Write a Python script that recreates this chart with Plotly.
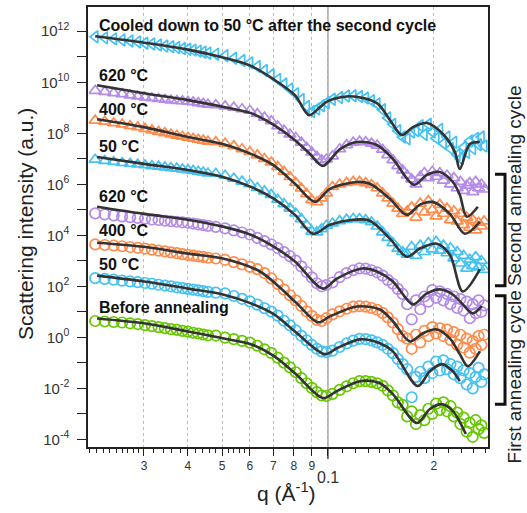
import plotly.graph_objects as go

# ---------------- data (log10 of displayed intensity) ----------------
q_markers = [0.0218, 0.0232, 0.0246, 0.0260, 0.0274, 0.0288, 0.0302, 0.0316, 0.0330, 0.0344,
             0.0358, 0.0372, 0.0386, 0.0400, 0.0414, 0.0428, 0.0442, 0.0456,
             0.048, 0.051, 0.054, 0.057, 0.060, 0.063, 0.066, 0.069, 0.072, 0.075, 0.078, 0.081,
             0.084, 0.087, 0.090, 0.093, 0.096, 0.099,
             0.103, 0.108, 0.113, 0.118, 0.123, 0.128, 0.133, 0.138, 0.143, 0.148, 0.153, 0.158,
             0.163, 0.168, 0.173, 0.178, 0.183, 0.188, 0.193, 0.198, 0.203, 0.208, 0.213, 0.218,
             0.223, 0.228, 0.233, 0.238, 0.243, 0.248, 0.253, 0.258, 0.263, 0.268, 0.273, 0.278]

m_before = [0.64, 0.62, 0.60, 0.58, 0.55, 0.52, 0.48, 0.44, 0.40, 0.36, 0.32, 0.29, 0.25, 0.22, 0.18, 0.15, 0.11, 0.08,
            0.07, -0.01, -0.07, -0.14, -0.21, -0.33, -0.47, -0.61, -0.80, -0.99, -1.18, -1.37, -1.60, -1.80, -1.98, -2.15, -2.28, -2.30,
            -2.22, -2.06, -1.92, -1.80, -1.72, -1.72, -1.75, -1.80, -1.90, -2.08, -2.28, -2.55, -2.65, -3.10, -2.90, -3.40, -3.05, -3.25,
            -2.80, -3.00, -2.60, -2.85, -2.55, -2.90, -2.70, -3.10, -2.95, -3.40, -3.15, -3.70, -3.35, -3.90, -3.25, -3.60, -3.45, -3.75]
m_c1_50 = [2.32, 2.29, 2.26, 2.22, 2.19, 2.16, 2.13, 2.10, 2.06, 2.03, 2.00, 1.96, 1.93, 1.90, 1.87, 1.84, 1.81, 1.78,
           1.75, 1.72, 1.62, 1.51, 1.41, 1.28, 1.14, 1.01, 0.85, 0.65, 0.47, 0.27, 0.06, -0.12, -0.30, -0.45, -0.55, -0.58,
           -0.52, -0.38, -0.24, -0.13, -0.06, -0.07, -0.12, -0.20, -0.30, -0.45, -0.62, -0.85, -1.05, -1.25, -2.35, -1.55, -1.35, -1.60,
           -1.15, -1.40, -0.95, -1.30, -0.90, -1.25, -1.05, -1.45, -1.15, -1.60, -1.30, -1.85, -1.40, -2.00, -1.55, -1.20, -1.75, -1.45]
m_c1_400 = [3.64, 3.62, 3.60, 3.57, 3.54, 3.51, 3.48, 3.44, 3.40, 3.37, 3.33, 3.30, 3.26, 3.23, 3.20, 3.17, 3.15, 3.12,
            3.09, 3.04, 2.95, 2.86, 2.76, 2.67, 2.52, 2.31, 2.09, 1.87, 1.65, 1.45, 1.23, 1.02, 0.84, 0.68, 0.64, 0.75,
            0.90, 1.02, 1.12, 1.20, 1.22, 1.20, 1.15, 1.08, 0.96, 0.78, 0.58, 0.32, 0.05, -0.05, -0.45, 0.10, -0.20, 0.25,
            0.05, 0.40, 0.15, 0.35, 0.05, 0.30, -0.10, 0.20, -0.30, 0.10, -0.40, -0.05, -0.60, -0.15, -0.45, 0.05, -0.30, 0.10]
m_c1_620 = [4.86, 4.82, 4.78, 4.74, 4.71, 4.68, 4.65, 4.62, 4.60, 4.57, 4.55, 4.53, 4.51, 4.49, 4.46, 4.43, 4.40, 4.37,
            4.33, 4.27, 4.19, 4.11, 4.03, 3.90, 3.77, 3.64, 3.50, 3.34, 3.18, 3.01, 2.78, 2.56, 2.35, 2.12, 2.00, 2.05,
            2.15, 2.36, 2.52, 2.63, 2.70, 2.69, 2.63, 2.55, 2.42, 2.25, 2.10, 1.90, 1.70, 1.30, 0.70, 1.45, 1.10, 1.60,
            1.40, 1.85, 1.55, 1.80, 1.45, 1.70, 1.30, 1.60, 1.15, 1.50, 1.05, 1.40, 0.75, 1.30, 0.95, 1.45, 1.00, 1.25]
m_c2_50 = [6.97, 6.92, 6.88, 6.84, 6.81, 6.78, 6.75, 6.72, 6.70, 6.67, 6.64, 6.62, 6.59, 6.56, 6.53, 6.50, 6.47, 6.43,
           6.42, 6.34, 6.23, 6.11, 6.01, 5.86, 5.73, 5.59, 5.40, 5.23, 5.05, 4.86, 4.64, 4.40, 4.15, 4.12, 4.25, 4.38,
           4.47, 4.56, 4.62, 4.65, 4.64, 4.60, 4.52, 4.35, 4.12, 3.90, 3.70, 3.48, 3.35, 3.25, 3.55, 3.20, 3.60, 3.35,
           3.70, 3.45, 3.75, 3.40, 3.60, 3.30, 3.50, 3.10, 3.35, 2.90, 3.20, 2.70, 3.05, 2.80, 3.15, 2.75, 3.00, 2.65]
m_c2_400 = [8.50, 8.46, 8.40, 8.35, 8.29, 8.24, 8.18, 8.12, 8.06, 8.01, 7.96, 7.91, 7.87, 7.83, 7.79, 7.75, 7.72, 7.68,
            7.66, 7.60, 7.50, 7.38, 7.27, 7.14, 7.00, 6.86, 6.69, 6.50, 6.29, 6.06, 5.84, 5.62, 5.38, 5.30, 5.45, 5.65,
            5.90, 6.00, 6.06, 6.10, 6.10, 6.05, 5.98, 5.85, 5.65, 5.45, 5.25, 5.05, 4.85, 4.95, 5.10, 4.70, 5.25, 4.90,
            5.35, 5.00, 4.75, 5.20, 4.85, 5.05, 4.60, 4.95, 4.55, 4.85, 4.40, 4.70, 4.30, 4.60, 4.20, 4.50, 4.35, 4.55]
m_c2_620 = [9.67, 9.63, 9.58, 9.54, 9.49, 9.45, 9.41, 9.38, 9.35, 9.32, 9.29, 9.27, 9.26, 9.24, 9.22, 9.19, 9.16, 9.13,
            9.11, 9.06, 9.01, 8.95, 8.89, 8.76, 8.62, 8.48, 8.28, 8.11, 7.96, 7.83, 7.64, 7.44, 7.25, 7.08, 6.95, 6.98,
            7.10, 7.38, 7.54, 7.64, 7.68, 7.66, 7.60, 7.52, 7.36, 7.15, 6.95, 6.72, 6.55, 6.35, 6.20, 6.00, 6.30, 6.45,
            6.25, 6.50, 6.30, 6.45, 6.15, 6.35, 6.00, 6.25, 5.85, 6.10, 5.75, 5.95, 6.05, 5.70, 6.10, 5.85, 6.00, 5.80]
m_cooled = [11.78, 11.74, 11.70, 11.66, 11.62, 11.58, 11.53, 11.50, 11.46, 11.42, 11.39, 11.36, 11.32, 11.29, 11.26, 11.22, 11.18, 11.14,
            11.10, 11.04, 10.94, 10.85, 10.76, 10.62, 10.46, 10.29, 10.11, 9.93, 9.74, 9.55, 9.32, 9.05, 8.85, 8.95, 9.08, 9.20,
            9.33, 9.40, 9.46, 9.47, 9.44, 9.38, 9.28, 9.15, 8.92, 8.60, 8.35, 8.10, 7.85, 7.78, 8.05, 8.10, 8.30, 7.95,
            8.35, 8.05, 7.80, 8.15, 7.60, 7.85, 7.40, 7.65, 7.15, 7.00, 7.45, 7.25, 7.70, 7.40, 7.80, 7.55, 7.85, 7.50]

fit_q_before = [0.02207, 0.030, 0.040, 0.0503, 0.0604, 0.0703, 0.0806, 0.0968, 0.106, 0.1233, 0.1405, 0.1530, 0.1790, 0.1949, 0.2108, 0.2265, 0.2466]
fit_before = [0.74, 0.55, 0.23, -0.04, -0.27, -0.74, -1.41, -2.38, -2.11, -1.72, -1.80, -2.23, -3.36, -2.81, -2.62, -2.89, -3.79]
fit_q_c1_50 = [0.02207, 0.030, 0.040, 0.0503, 0.0604, 0.0703, 0.0806, 0.0980, 0.106, 0.1233, 0.1405, 0.1530, 0.1800, 0.1949, 0.2108, 0.2265, 0.2370]
fit_c1_50 = [2.42, 2.19, 1.91, 1.68, 1.33, 0.90, 0.23, -0.66, -0.43, -0.08, -0.23, -0.55, -1.91, -1.33, -1.05, -1.33, -1.72]
fit_q_c1_400 = [0.02207, 0.030, 0.040, 0.0503, 0.0641, 0.0730, 0.0816, 0.0937, 0.1013, 0.1209, 0.1405, 0.1530, 0.1710, 0.1862, 0.2039, 0.2221, 0.2370, 0.2498, 0.2703]
fit_c1_400 = [3.71, 3.55, 3.28, 3.09, 2.58, 1.95, 1.33, 0.59, 0.82, 1.21, 1.09, 0.63, -0.16, 0.16, 0.31, -0.04, -0.66, -1.13, -0.55]
fit_q_c1_620 = [0.02207, 0.030, 0.040, 0.0503, 0.0604, 0.0703, 0.0806, 0.0968, 0.106, 0.1249, 0.1378, 0.1530, 0.1744, 0.1911, 0.2080, 0.2265, 0.2418, 0.2580, 0.2739]
fit_c1_620 = [5.12, 4.84, 4.61, 4.34, 4.02, 3.55, 2.97, 1.91, 2.30, 2.70, 2.58, 2.19, 1.29, 1.72, 1.88, 1.68, 1.29, 0.94, 1.22]
fit_q_c2_50 = [0.02207, 0.030, 0.040, 0.0503, 0.0604, 0.0703, 0.0806, 0.0907, 0.1013, 0.1178, 0.1316, 0.150, 0.1676, 0.1826, 0.2039, 0.2221, 0.2418, 0.2703]
fit_c2_50 = [7.07, 6.80, 6.56, 6.29, 5.90, 5.43, 4.80, 4.06, 4.41, 4.61, 4.57, 3.87, 3.16, 3.48, 3.67, 3.24, 1.80, 2.66]
fit_q_c2_400 = [0.02207, 0.030, 0.040, 0.0503, 0.0604, 0.0698, 0.0806, 0.0919, 0.1013, 0.1209, 0.1316, 0.150, 0.1676, 0.1826, 0.1987, 0.2221, 0.2450, 0.2703]
fit_c2_400 = [8.55, 8.24, 7.85, 7.58, 7.19, 6.76, 6.02, 5.31, 5.82, 6.09, 6.02, 5.43, 4.80, 5.20, 5.31, 4.84, 4.06, 4.53]
fit_q_c2_620 = [0.02207, 0.030, 0.040, 0.0527, 0.0604, 0.0703, 0.0806, 0.0889, 0.0968, 0.1082, 0.1209, 0.1378, 0.1530, 0.1755, 0.1911, 0.2080, 0.2265, 0.2370, 0.2482, 0.2668]
fit_c2_620 = [9.88, 9.57, 9.30, 8.98, 8.79, 8.32, 7.73, 7.19, 6.72, 7.38, 7.66, 7.54, 6.99, 5.98, 6.37, 6.48, 6.09, 5.59, 4.73, 5.12]
fit_q_cooled = [0.0218, 0.030, 0.040, 0.050, 0.060, 0.070, 0.0806, 0.0883, 0.0949, 0.100, 0.1155, 0.1378, 0.150, 0.1623, 0.1744, 0.1911, 0.2122, 0.2295, 0.2370, 0.2531, 0.2703]
fit_cooled = [11.80, 11.55, 11.28, 10.98, 10.66, 10.12, 9.49, 8.71, 9.02, 9.26, 9.45, 9.18, 8.52, 7.93, 8.24, 8.40, 7.97, 7.27, 6.60, 7.58, 7.66]

labels = ["Cooled down to 50 °C after the second cycle", "620 °C", "400 °C", "50 °C",
          "620 °C", "400 °C", "50 °C", "Before annealing"]

x_tickvals = [0.03, 0.04, 0.05, 0.06, 0.07, 0.08, 0.09, 0.1, 0.2]
x_ticktext = ["3", "4", "5", "6", "7", "8", "9", "", "2"]
x_minor = ([0.021, 0.022, 0.023, 0.024, 0.025, 0.026, 0.027, 0.028, 0.029,
            0.032, 0.034, 0.036, 0.038, 0.042, 0.044, 0.046, 0.048, 0.052, 0.054, 0.056, 0.058,
            0.11, 0.12, 0.13, 0.14, 0.15, 0.16, 0.17, 0.18, 0.19, 0.22, 0.24, 0.26, 0.28])
y_exps = [-4, -2, 0, 2, 4, 6, 8, 10, 12]
y_minor_exps = [-3, -1, 1, 3, 5, 7, 9, 11]

GREEN, BLUE, ORANGE, PURPLE = "#66c800", "#45c1f2", "#ff8b4c", "#b48be6"
LINE = "#333333"

series = [
    (m_before, fit_q_before, fit_before, GREEN, "circle-open"),
    (m_c1_50, fit_q_c1_50, fit_c1_50, BLUE, "circle-open"),
    (m_c1_400, fit_q_c1_400, fit_c1_400, ORANGE, "circle-open"),
    (m_c1_620, fit_q_c1_620, fit_c1_620, PURPLE, "circle-open"),
    (m_c2_50, fit_q_c2_50, fit_c2_50, BLUE, "triangle-up-open"),
    (m_c2_400, fit_q_c2_400, fit_c2_400, ORANGE, "triangle-up-open"),
    (m_c2_620, fit_q_c2_620, fit_c2_620, PURPLE, "triangle-up-open"),
    (m_cooled, fit_q_cooled, fit_cooled, BLUE, "triangle-left-open"),
]

fig = go.Figure()
for m, fq, fv, col, sym in series:
    fig.add_trace(go.Scatter(x=q_markers, y=[10 ** v for v in m], mode="markers",
                             marker=dict(symbol=sym, size=10.5, color=col, line=dict(width=1.7, color=col)),
                             showlegend=False, hoverinfo="skip"))
for m, fq, fv, col, sym in series:
    fig.add_trace(go.Scatter(x=fq, y=[10 ** v for v in fv], mode="lines",
                             line=dict(color=LINE, width=2.6, shape="spline", smoothing=0.9),
                             showlegend=False, hoverinfo="skip"))

FONT = "Liberation Sans, Arial, sans-serif"

fig.update_layout(
    width=527, height=513,
    margin=dict(l=88, r=39, t=5, b=66),
    paper_bgcolor="white", plot_bgcolor="white",
    font=dict(family=FONT, color="#222222"),
    xaxis=dict(type="log", range=[-1.682, -0.545],
               tickvals=x_tickvals, ticktext=x_ticktext,
               ticks="outside", ticklen=7, tickwidth=1.3, tickcolor="#222",
               tickfont=dict(size=12, color="#333"),
               showline=True, linecolor="#222", linewidth=1.5, mirror=True,
               showgrid=True, gridcolor="#bdbdbd", griddash="dot", gridwidth=1,
               zeroline=False,
               minor=dict(tickmode="array", tickvals=x_minor, ticks="outside", ticklen=4,
                          tickwidth=1.2, tickcolor="#222", showgrid=False)),
    yaxis=dict(type="log", range=[-4.3, 12.95],
               tickvals=[10.0 ** e for e in y_exps],
               ticktext=["10<sup>%d</sup>" % e for e in y_exps],
               ticks="outside", ticklen=9, tickwidth=1.3, tickcolor="#222",
               tickfont=dict(size=15, color="#333"), ticklabelstandoff=5,
               showline=True, linecolor="#222", linewidth=1.5, mirror=True,
               showgrid=False, zeroline=False,
               minor=dict(tickmode="array", tickvals=[10.0 ** e for e in y_minor_exps],
                          ticks="outside", ticklen=9, tickwidth=1.3, tickcolor="#222", showgrid=False)),
)

# solid reference line at q = 0.1
fig.add_shape(type="line", xref="x", yref="paper", x0=0.1, x1=0.1, y0=0, y1=1,
              line=dict(color="#8a8a8a", width=1.2), layer="below")
# longer tick at 0.1
fig.add_shape(type="line", xref="x", yref="paper", x0=0.1, x1=0.1, y0=0, y1=-0.027,
              line=dict(color="#222", width=1.3))
# larger, lowered label for 0.1 (log10 coordinate for annotation on log axis)
fig.add_annotation(text="0.1", xref="x", yref="paper", x=-1, y=-0.070, showarrow=False,
                   xanchor="center", yanchor="middle", font=dict(size=16, color="#333", family=FONT))

label_y = [0.959, 0.844, 0.767, 0.683, 0.570, 0.491, 0.414, 0.317]
for txt, yy in zip(labels, label_y):
    fig.add_annotation(text="<b>%s</b>" % txt, xref="paper", yref="paper", x=0.0225, y=yy,
                       xanchor="left", yanchor="middle", showarrow=False,
                       font=dict(size=16, color="#111", family=FONT))

fig.add_annotation(text="Scattering intensity (a.u.)", xref="paper", yref="paper",
                   x=-0.155, y=0.507, textangle=-90, showarrow=False,
                   xanchor="center", yanchor="middle", font=dict(size=21, color="#222", family=FONT))
fig.add_annotation(text="q (Å<sup>-1</sup>)", xref="paper", yref="paper",
                   x=0.495, y=-0.102, showarrow=False, xanchor="center", yanchor="middle",
                   font=dict(size=21, color="#222", family=FONT))

fig.add_annotation(text="Second annealing cycle", xref="paper", yref="paper",
                   x=1.065, y=0.593, textangle=-90, showarrow=False,
                   xanchor="center", yanchor="middle", font=dict(size=19, color="#222", family=FONT))
fig.add_annotation(text="First annealing cycle", xref="paper", yref="paper",
                   x=1.065, y=0.158, textangle=-90, showarrow=False,
                   xanchor="center", yanchor="middle", font=dict(size=19, color="#222", family=FONT))

for y_top, y_bot in [(0.620, 0.3665), (0.344, 0.0973)]:
    fig.add_shape(type="path", xref="paper", yref="paper",
                  path="M 1.0175 %f L 1.0425 %f L 1.0425 %f L 1.0175 %f" % (y_top, y_top, y_bot, y_bot),
                  line=dict(color="#111", width=3))

fig.write_html("out.html", config={"displayModeBar": False},
               post_script="document.body.style.margin='0px';")
